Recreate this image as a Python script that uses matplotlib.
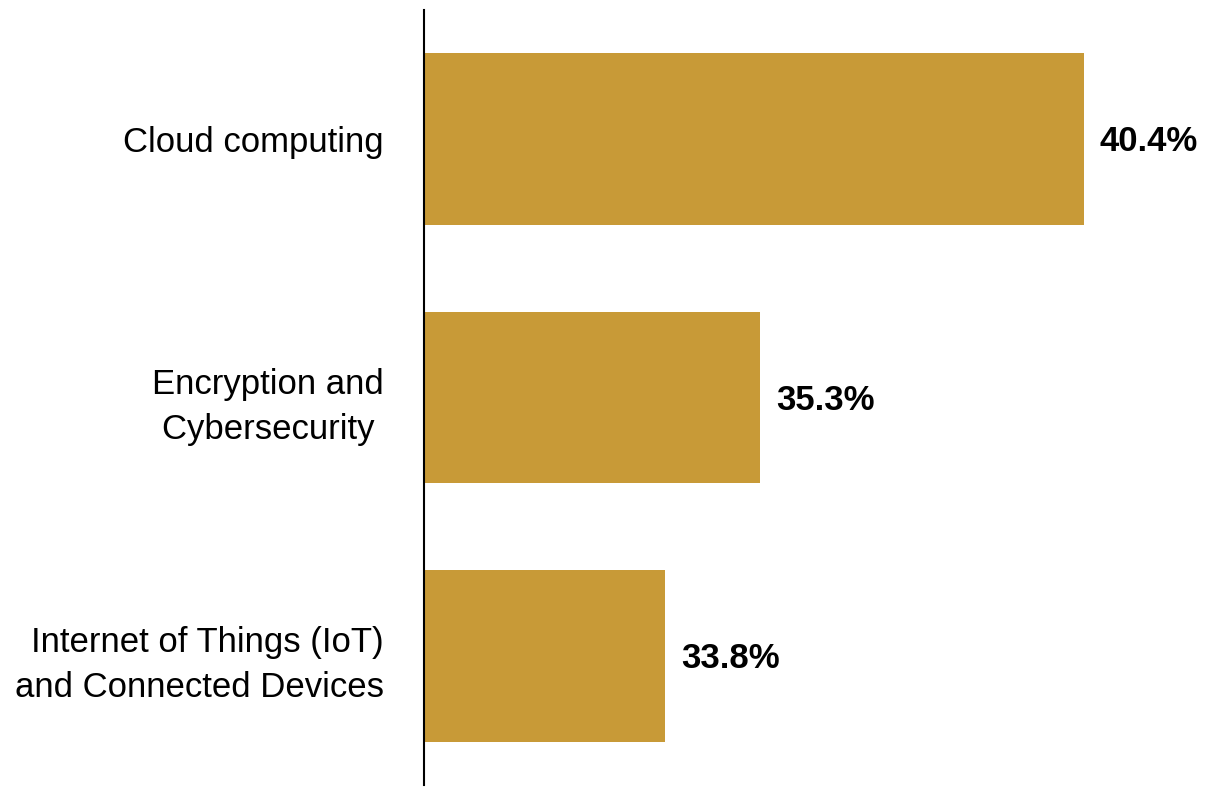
import matplotlib.pyplot as plt
from matplotlib import font_manager

categories = ["Cloud computing", "Encryption and\nCybersecurity ", "Internet of Things (IoT)\nand Connected Devices"]
values = [40.4, 35.3, 33.8]
value_labels = ["40.4%", "35.3%", "33.8%"]

names = {f.name for f in font_manager.fontManager.ttflist}
family = "Liberation Sans Narrow" if "Liberation Sans Narrow" in names else "Liberation Sans"
plt.rcParams["font.family"] = [family, "DejaVu Sans"]

fig = plt.figure(figsize=(12.17, 7.92), dpi=100)
ax = fig.add_axes([424 / 1217, 7 / 792, 793 / 1217, 775 / 792])

bar_color = "#C89A37"
pos = list(range(len(categories)))
ax.barh(pos, [v - 30 for v in values], left=30, height=0.665, color=bar_color)

ax.set_xlim(30, 42.5)
ax.set_ylim(2.5, -0.5)

for p, v, lab in zip(pos, values, value_labels):
    ax.text(v + 0.25, p + 0.01, lab, va="center", ha="left", fontsize=25, fontweight="bold")

ax.set_yticks(pos)
ax.set_yticklabels(categories, fontsize=25, linespacing=1.45)
ax.tick_params(axis="y", length=0, pad=29)
ax.set_xticks([])

for s in ["top", "right", "bottom"]:
    ax.spines[s].set_visible(False)
ax.spines["left"].set_linewidth(1.5)

fig.savefig("out.png", dpi=100)
